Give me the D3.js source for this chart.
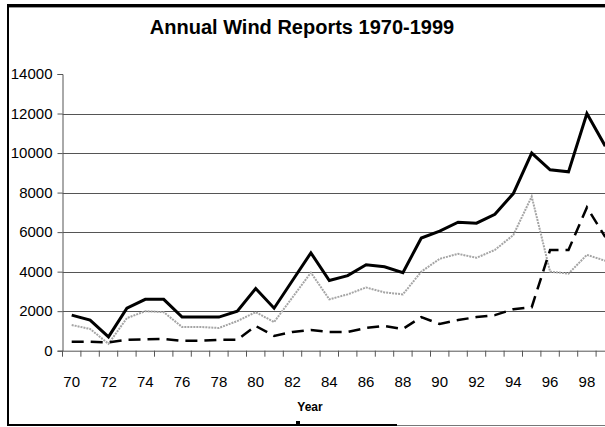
<!DOCTYPE html>
<html>
<head>
<meta charset="utf-8">
<script src="https://cdn.jsdelivr.net/npm/d3@7"></script>
<style>
  body { margin: 0; background: #fff; }
  svg { display: block; font-family: "Liberation Sans", Arial, sans-serif; }
</style>
</head>
<body>
<div id="chart"></div>
<script>
// data
var years = d3.range(1970, 2000);
var totalReports = [1800, 1550, 700, 2150, 2600, 2600, 1700, 1700, 1700, 2000,
    3150, 2150, 3550, 4950, 3550, 3800, 4350, 4250, 3950, 5700,
    6050, 6500, 6450, 6900, 7950, 10000, 9150, 9050, 12000, 10350];
var grayReports = [1300, 1100, 350, 1650, 2000, 1950, 1200, 1200, 1150, 1500,
    1950, 1450, 2700, 3950, 2600, 2850, 3200, 2950, 2850, 4000,
    4650, 4900, 4700, 5100, 5850, 7800, 4000, 3900, 4850, 4550];
var dashedReports = [450, 450, 420, 550, 580, 600, 500, 500, 550, 550,
    1250, 750, 950, 1050, 950, 950, 1150, 1250, 1100, 1700,
    1350, 1550, 1700, 1800, 2100, 2200, 5100, 5100, 7250, 5750];
var yTicks = [0, 2000, 4000, 6000, 8000, 10000, 12000, 14000];

function windChart() {
    var width = 605, height = 427;
    var plotLeft = 62.5, bandW = 18.4, plotTop = 74, plotBottom = 350.7;

    var svg = d3.select("#chart").append("svg")
        .attr("width", width)
        .attr("height", height);

    var x = d3.scaleBand().domain(years).range([plotLeft, plotLeft + years.length * bandW]);
    var y = d3.scaleLinear().domain([0, 14000]).range([plotBottom, plotTop]);

    // frame
    svg.append("line").attr("x1", 7).attr("x2", width).attr("y1", 5.5).attr("y2", 5.5)
        .attr("stroke", "#000").attr("stroke-width", 3);
    svg.append("line").attr("x1", 7).attr("x2", width).attr("y1", 7.5).attr("y2", 7.5)
        .attr("stroke", "#999").attr("stroke-width", 1);
    svg.append("line").attr("x1", 8).attr("x2", 8).attr("y1", 4).attr("y2", 426)
        .attr("stroke", "#000").attr("stroke-width", 2);
    svg.append("line").attr("x1", 7).attr("x2", 397).attr("y1", 425).attr("y2", 425)
        .attr("stroke", "#000").attr("stroke-width", 2);
    svg.append("line").attr("x1", 397).attr("x2", width).attr("y1", 425.5).attr("y2", 425.5)
        .attr("stroke", "#777").attr("stroke-width", 1);
    svg.append("rect").attr("x", 296).attr("y", 421).attr("width", 4).attr("height", 4).attr("fill", "#000");

    // title
    svg.append("text")
        .attr("x", 302).attr("y", 34)
        .attr("text-anchor", "middle")
        .style("font-size", "20px").style("font-weight", "bold")
        .text("Annual Wind Reports 1970-1999");

    // grid
    svg.append("g").selectAll("line")
        .data(yTicks.filter(function (d) { return d > 0 && d < 14000; }))
        .join("line")
        .attr("x1", plotLeft).attr("x2", width)
        .attr("y1", function (d) { return Math.round(y(d)) + 0.5; })
        .attr("y2", function (d) { return Math.round(y(d)) + 0.5; })
        .attr("stroke", "#555").attr("stroke-width", 1);

    // y axis
    var yAxis = svg.append("g")
        .attr("transform", "translate(" + plotLeft + ",0)")
        .call(d3.axisLeft(y).tickValues(yTicks).tickSize(5).tickPadding(5).tickFormat(d3.format("d")));
    yAxis.select(".domain").attr("stroke", "#555");
    yAxis.selectAll(".tick line").attr("stroke", "#555");
    yAxis.selectAll("text").style("font-size", "15px").attr("fill", "#000");

    // x axis
    var xAxis = svg.append("g")
        .attr("transform", "translate(0," + plotBottom + ")")
        .call(d3.axisBottom(x).tickSize(0).tickPadding(26)
            .tickFormat(function (d) { return d % 2 === 0 ? String(d).slice(2) : ""; }));
    xAxis.select(".domain").attr("stroke", "#555");
    xAxis.selectAll("text").style("font-size", "15px").attr("fill", "#000");
    xAxis.selectAll(".band-tick")
        .data(years.concat([2000]))
        .join("line")
        .attr("class", "band-tick")
        .attr("x1", function (d) { return d === 2000 ? x(1999) + bandW : x(d); })
        .attr("x2", function (d) { return d === 2000 ? x(1999) + bandW : x(d); })
        .attr("y1", 0).attr("y2", 6)
        .attr("stroke", "#555");

    svg.append("text")
        .attr("x", 310).attr("y", 411)
        .attr("text-anchor", "middle")
        .style("font-size", "12px").style("font-weight", "bold")
        .text("Year");

    // series
    function seriesLine(values) {
        return d3.line()
            .x(function (d, i) { return x(years[i]) + x.bandwidth() / 2; })
            .y(function (d) { return y(d); })(values);
    }

    svg.append("path")
        .attr("d", seriesLine(grayReports))
        .attr("fill", "none")
        .attr("stroke", "#a5a5a5")
        .attr("stroke-width", 2)
        .attr("stroke-dasharray", "2,1");

    svg.append("path")
        .attr("d", seriesLine(dashedReports))
        .attr("fill", "none")
        .attr("stroke", "#000")
        .attr("stroke-width", 2.5)
        .attr("stroke-dasharray", "12,7");

    svg.append("path")
        .attr("d", seriesLine(totalReports))
        .attr("fill", "none")
        .attr("stroke", "#000")
        .attr("stroke-width", 3)
        .attr("stroke-linejoin", "miter");
}
windChart();
</script>
</body>
</html>
